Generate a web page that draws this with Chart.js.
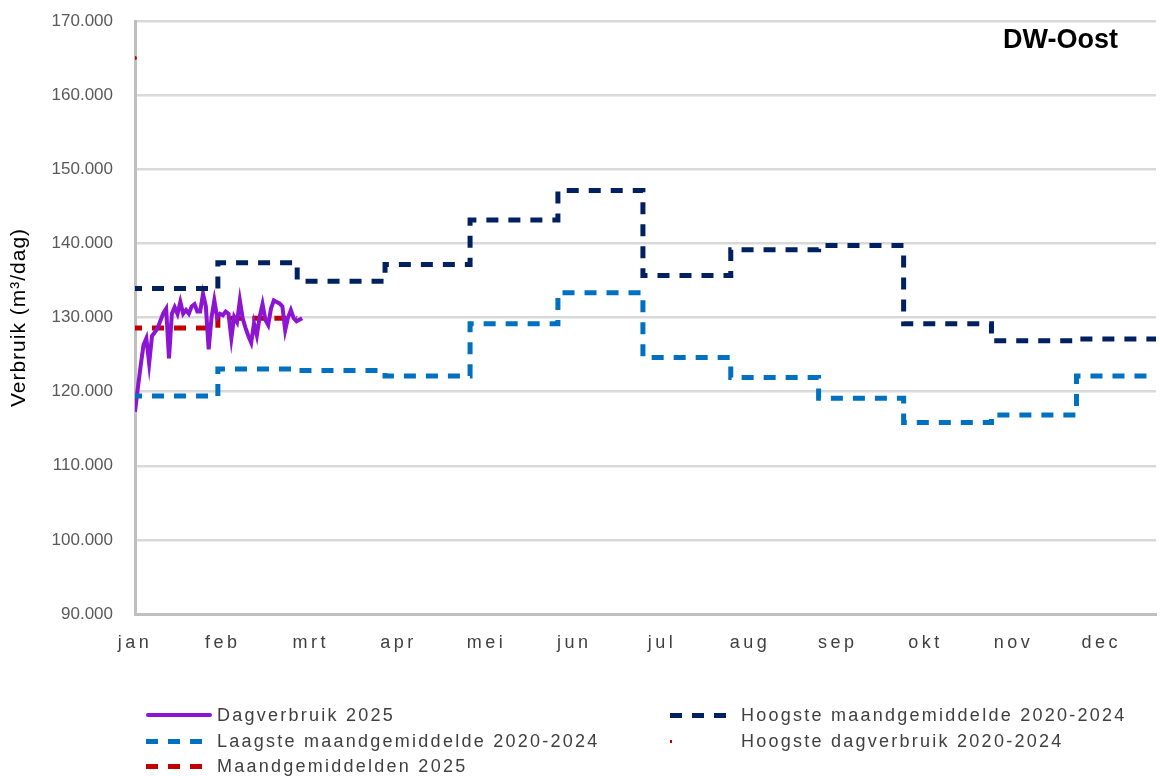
<!DOCTYPE html>
<html>
<head>
<meta charset="utf-8">
<script src="https://cdn.jsdelivr.net/npm/chart.js@4/dist/chart.umd.min.js"></script>
<style>
  body { margin: 0; background: #fff; font-family: "Liberation Sans", Arial, sans-serif; }
  #wrap { position: relative; width: 1160px; height: 776px; overflow: hidden; }
  #legend { position: absolute; left: 0; top: 0; width: 1160px; height: 776px; pointer-events: none; }
  .mark { position: absolute; height: 5px; }
  .txt { position: absolute; font-size: 18px; color: #404040; letter-spacing: 2.25px; white-space: nowrap; line-height: 24px; }
</style>
</head>
<body>
<div id="wrap">
  <canvas id="grafiek"></canvas>
  <div id="legend"></div>
</div>
<script>
// maanden op de x-as
const maanden = ['jan', 'feb', 'mrt', 'apr', 'mei', 'jun', 'jul', 'aug', 'sep', 'okt', 'nov', 'dec'];
// eerste dag van elke maand (dag van het jaar, 0 = 1 jan)
const maandStart = [0, 31, 59, 90, 120, 151, 181, 212, 243, 273, 304, 334];
const maandVerschuiving = -1.76;

// Dagverbruik 2025 (m3/dag), vanaf 1 jan
const dagverbruik2025 = [
  117300, 120500, 123500, 126300, 127200, 123800, 127500, 128000, 128600, 129600,
  130600, 131200, 124500, 130500, 131400, 130500, 132100, 130500, 131000, 130500,
  131500, 131800, 130800, 130800, 133200, 131500, 125700, 130000, 132300, 130000,
  130500, 130300, 130800, 130500, 127200, 130100, 129400, 132300, 129900, 128600,
  127500, 126600, 129200, 127600, 130100, 131800, 129700, 129000, 131200, 132300,
  132100, 131900, 131500, 128300, 130000, 131000, 129900, 129500, 129700, 129900
];

// maandwaarden
const hoogsteMaand = [133900, 137400, 134900, 137150, 143150, 147150, 135650, 139150, 139700, 129150, 126850, 127100];
const laagsteMaand = [119400, 123050, 122850, 122100, 129150, 133350, 124600, 121900, 119100, 115850, 116850, 122100];
const maandgem2025 = [128600, 129900];

// hoogste dagverbruik 2020-2024
const hoogsteDag = [{ dag: 0, waarde: 165000 }];

function trap(waarden) {
  const pts = waarden.map((v, i) => ({ x: maandStart[i] + maandVerschuiving, y: v }));
  const eind = waarden.length < 12 ? maandStart[waarden.length] : 365;
  pts.push({ x: eind + maandVerschuiving, y: waarden[waarden.length - 1] });
  return pts;
}

const sets = [
  {
    label: 'Laagste maandgemiddelde 2020-2024',
    data: trap(laagsteMaand),
    borderColor: '#0070c0', backgroundColor: '#0070c0',
    borderWidth: 5, borderDash: [12, 10], stepped: true, pointRadius: 0
  },
  {
    label: 'Hoogste maandgemiddelde 2020-2024',
    data: trap(hoogsteMaand),
    borderColor: '#002060', backgroundColor: '#002060',
    borderWidth: 5, borderDash: [12, 10], stepped: true, pointRadius: 0
  },
  {
    label: 'Dagverbruik 2025',
    data: dagverbruik2025.map((v, i) => ({ x: i, y: v })),
    borderColor: '#8c14d2', backgroundColor: '#8c14d2',
    borderWidth: 4, pointRadius: 0, tension: 0
  },
  {
    label: 'Maandgemiddelden 2025',
    data: trap(maandgem2025),
    borderColor: '#c00000', backgroundColor: '#c00000',
    borderWidth: 5, borderDash: [12, 10], stepped: true, pointRadius: 0
  },
  {
    label: 'Hoogste dagverbruik 2020-2024',
    data: hoogsteDag.map(p => ({ x: p.dag, y: p.waarde })),
    borderColor: '#c00000', backgroundColor: '#c00000',
    showLine: false, pointRadius: 2, pointBorderWidth: 0
  }
];

function punten(v) {
  return String(v).replace(/\B(?=(\d{3})+(?!\d))/g, '.');
}

const extra = {
  id: 'extra',
  beforeDraw(chart) {
    const sx = chart.scales.x;
    if (sx && !sx._spatie) {
      const orig = sx.drawLabels.bind(sx);
      sx.drawLabels = function (area) {
        const c = this.ctx;
        c.save();
        c.letterSpacing = '3.5px';
        orig(area);
        c.restore();
      };
      sx._spatie = true;
    }
    const sy = chart.scales.y;
    if (sy && !sy._spatie) {
      const origT = sy.drawTitle.bind(sy);
      sy.drawTitle = function () {
        const c = this.ctx;
        c.save();
        c.letterSpacing = '1px';
        origT();
        c.restore();
      };
      sy._spatie = true;
    }
  },
  afterDraw(chart) {
    const c = chart.ctx;
    c.save();
    c.font = 'bold 27px "Liberation Sans", Arial, sans-serif';
    c.fillStyle = '#000';
    c.textAlign = 'right';
    c.textBaseline = 'middle';
    c.fillText('DW-Oost', 1118, 41);
    c.restore();
  }
};

new Chart(document.getElementById('grafiek'), {
  type: 'line',
  data: { datasets: sets },
  options: {
    responsive: true,
    maintainAspectRatio: false,
    animation: false,
    layout: { padding: { top: 21, right: 0, left: 0, bottom: 0 } },
    plugins: {
      legend: { display: false },
      tooltip: { enabled: false }
    },
    scales: {
      x: {
        type: 'linear',
        min: 0,
        max: 360.3,
        afterBuildTicks: s => { s.ticks = maanden.map((m, i) => ({ value: i * 31 })); },
        afterFit: s => { s.height = 162; s.paddingLeft = 0; s.paddingRight = 0; },
        grid: { display: false, drawTicks: false },
        border: { color: '#bfbfbf', width: 3 },
        ticks: {
          autoSkip: false, maxRotation: 0, padding: 18,
          color: '#404040',
          font: { size: 18, family: '"Liberation Sans", Arial, sans-serif' },
          callback: v => maanden[Math.round(v / 31)]
        }
      },
      y: {
        min: 90000,
        max: 170000,
        afterFit: s => { s.width = 135; s.paddingTop = 0; s.paddingBottom = 0; },
        grid: { color: '#d9d9d9', lineWidth: 2.5, drawTicks: false },
        border: { color: '#bfbfbf', width: 3 },
        ticks: {
          stepSize: 10000, padding: 22,
          color: '#595959',
          font: { size: 17, family: '"Liberation Sans", Arial, sans-serif' },
          callback: v => punten(v)
        },
        title: {
          display: true,
          text: 'Verbruik (m³/dag)',
          color: '#000',
          padding: { top: 7, bottom: 0 },
          font: { size: 21, family: '"Liberation Sans", Arial, sans-serif' }
        }
      }
    }
  },
  plugins: [extra]
});

// legenda
const legenda = [
  { set: 2, kol: 0, rij: 0, soort: 'lijn' },
  { set: 0, kol: 0, rij: 1, soort: 'streep' },
  { set: 3, kol: 0, rij: 2, soort: 'streep' },
  { set: 1, kol: 1, rij: 0, soort: 'streep' },
  { set: 4, kol: 1, rij: 1, soort: 'punt' }
];
const kolX = [{ m: 146, t: 217 }, { m: 670, t: 741 }];
const rijY = [715, 741, 766];
const lg = document.getElementById('legend');
legenda.forEach(e => {
  const ds = sets[e.set];
  const mk = document.createElement('div');
  mk.className = 'mark';
  const y = rijY[e.rij];
  if (e.soort === 'lijn') {
    mk.style.cssText = `left:${kolX[e.kol].m}px;top:${y - 2}px;width:66px;height:4px;background:${ds.borderColor};border-radius:2px;`;
  } else if (e.soort === 'streep') {
    mk.style.cssText = `left:${kolX[e.kol].m}px;top:${y - 2.5}px;width:56px;height:5px;background:repeating-linear-gradient(to right, ${ds.borderColor} 0 12px, transparent 12px 22px);`;
  } else {
    mk.style.cssText = `left:${kolX[e.kol].m}px;top:${y - 1}px;width:2px;height:3px;background:${ds.borderColor};`;
  }
  lg.appendChild(mk);
  const tx = document.createElement('div');
  tx.className = 'txt';
  tx.style.left = kolX[e.kol].t + 'px';
  tx.style.top = (y - 12) + 'px';
  tx.textContent = ds.label;
  lg.appendChild(tx);
});
</script>
</body>
</html>
